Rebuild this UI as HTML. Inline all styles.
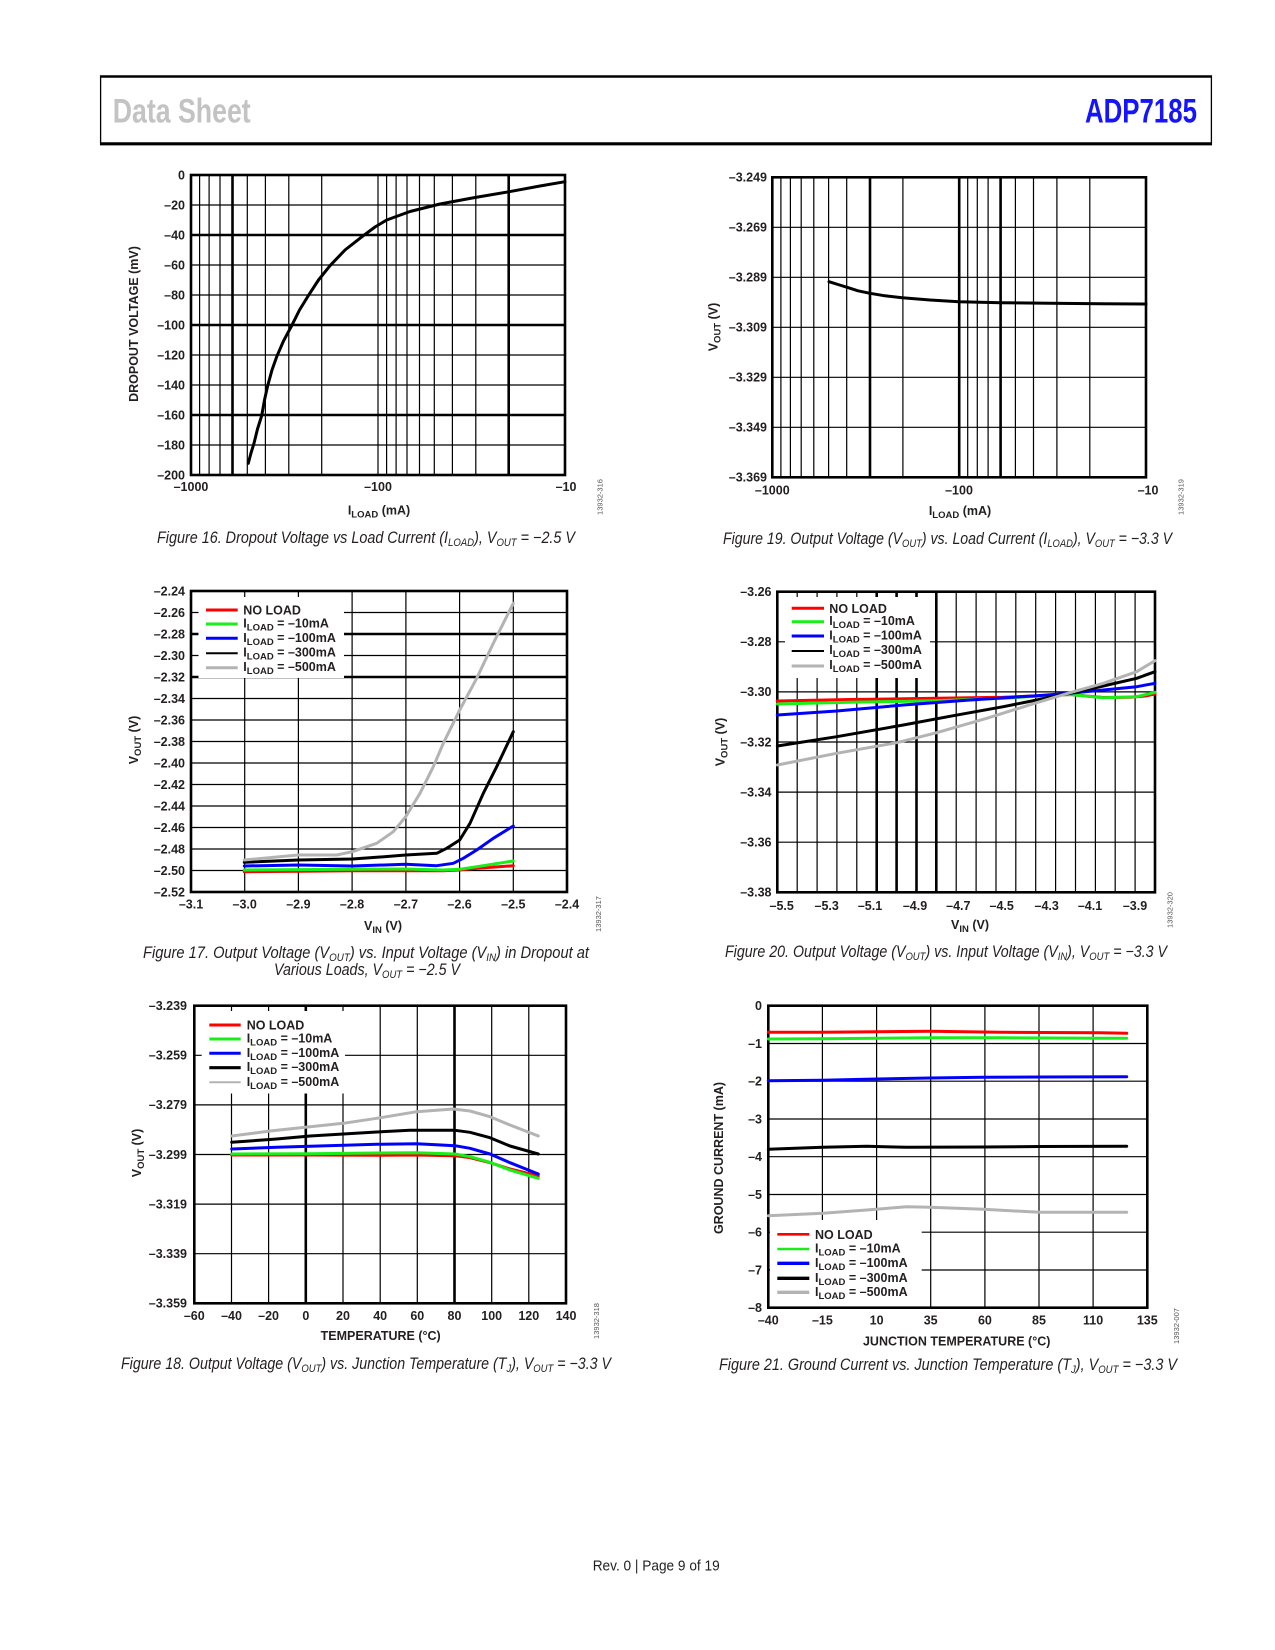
<!DOCTYPE html>
<html>
<head>
<meta charset="utf-8">
<style>
html,body{margin:0;padding:0;background:#fff;}
svg{display:block;}
.t{font-family:"Liberation Sans",Arial,sans-serif;font-weight:bold;font-size:12.5px;fill:#231f20;}
.tl{font-family:"Liberation Sans",Arial,sans-serif;font-weight:bold;font-size:12.5px;fill:#231f20;}
.cap{font-family:"Liberation Sans",Arial,sans-serif;font-style:italic;font-size:16.5px;fill:#231f20;}
.id{font-family:"Liberation Sans",Arial,sans-serif;font-size:7.5px;fill:#555;}
.g{fill:none;stroke:#000;stroke-width:1.2;}
.gk{fill:none;stroke:#000;stroke-width:2.6;}
.bd{fill:none;stroke:#000;stroke-width:2.6;}
.s{fill:none;stroke-width:3;stroke-linejoin:round;stroke-linecap:round;}
</style>
</head>
<body>
<svg width="1275" height="1650" viewBox="0 0 1275 1650" xmlns="http://www.w3.org/2000/svg">
<rect x="0" y="0" width="1275" height="1650" fill="#fff"/>

<!-- HEADER -->
<line x1="100" y1="76.5" x2="1212" y2="76.5" stroke="#000" stroke-width="2.5"/>
<line x1="100" y1="143.8" x2="1212" y2="143.8" stroke="#000" stroke-width="3.2"/>
<line x1="100.6" y1="75.5" x2="100.6" y2="145" stroke="#000" stroke-width="1.3"/>
<line x1="1211.4" y1="75.5" x2="1211.4" y2="145" stroke="#000" stroke-width="1.3"/>
<text x="112.7" y="122.7" font-family="'Liberation Sans Narrow','Liberation Sans',Arial,sans-serif" font-weight="bold" font-size="34" fill="#c3c3c3" textLength="138" lengthAdjust="spacingAndGlyphs">Data Sheet</text>
<text x="1085" y="122.7" font-family="'Liberation Sans Narrow','Liberation Sans',Arial,sans-serif" font-weight="bold" font-size="34" fill="#1414ff" textLength="112" lengthAdjust="spacingAndGlyphs">ADP7185</text>

<!-- ================= FIG 16 ================= -->
<path class="g" d="M199.6 175V475M209.1 175V475M220 175V475M247.3 175V475M265.4 175V475M288.8 175V475M321.7 175V475M378 175V475M386.6 175V475M396.1 175V475M407 175V475M419.5 175V475M434.3 175V475M452.4 175V475M475.8 175V475M191 205H565M191 265H565M191 295H565M191 355H565M191 385H565M191 445H565"/>
<path class="gk" d="M232.5 175V475M508.7 175V475M191 235H565M191 325H565M191 415H565"/>
<rect class="bd" x="191" y="175" width="374" height="300"/>
<polyline class="s" stroke="#000" points="248.3,463.3 251,453 254,443.3 257.5,429 261.7,415.7 264.5,400 267.7,385.7 272,370 276.7,356.7 283.5,341 291.7,325.7 299.5,310 308.3,295.7 318.5,280 330,265.7 345,250 363.3,235.7 375,227 386.7,220 410,211.5 440,204 475,197.5 509.3,191.7 540,186 565,181.7"/>
<g class="t" text-anchor="end">
<text x="185" y="179.3">0</text>
<text x="185" y="209.3">–20</text>
<text x="185" y="239.3">–40</text>
<text x="185" y="269.3">–60</text>
<text x="185" y="299.3">–80</text>
<text x="185" y="329.3">–100</text>
<text x="185" y="359.3">–120</text>
<text x="185" y="389.3">–140</text>
<text x="185" y="419.3">–160</text>
<text x="185" y="449.3">–180</text>
<text x="185" y="479.3">–200</text>
</g>
<g class="t" text-anchor="middle">
<text x="191" y="491">–1000</text>
<text x="378" y="491">–100</text>
<text x="566" y="491">–10</text>
<text x="379" y="514.5">I<tspan font-size="9.5" dy="3">LOAD</tspan><tspan dy="-3"> (mA)</tspan></text>
</g>
<text class="t" text-anchor="middle" x="133.5" y="328.5" transform="rotate(-90 133.5 324)">DROPOUT VOLTAGE (mV)</text>
<text class="id" text-anchor="middle" x="600" y="499.5" transform="rotate(-90 600 497)">13932-316</text>
<text class="cap" x="157" y="543" textLength="418" lengthAdjust="spacingAndGlyphs">Figure 16. Dropout Voltage vs Load Current (I<tspan font-size="11" dy="3">LOAD</tspan><tspan dy="-3">), V</tspan><tspan font-size="11" dy="3">OUT</tspan><tspan dy="-3"> = −2.5 V</tspan></text>

<!-- ================= FIG 19 ================= -->
<path class="g" d="M780.9 177.3V477.3M790.4 177.3V477.3M801.2 177.3V477.3M813.8 177.3V477.3M828.6 177.3V477.3M846.7 177.3V477.3M902.9 177.3V477.3M967.7 177.3V477.3M977.3 177.3V477.3M988.1 177.3V477.3M1015.4 177.3V477.3M1033.5 177.3V477.3M1056.9 177.3V477.3M1089.8 177.3V477.3M772.3 227.3H1146M772.3 277.3H1146M772.3 327.3H1146M772.3 377.3H1146M772.3 427.3H1146"/>
<path class="gk" d="M870 177.3V477.3M959.2 177.3V477.3M1000.6 177.3V477.3"/>
<rect class="bd" x="772.3" y="177.3" width="373.7" height="300"/>
<polyline class="s" stroke="#000" points="829,281.7 838,284.5 848.3,287.7 858,290.8 870,293.3 885,295.8 902.3,297.7 930,300 959,301.7 1001,302.7 1050,303.3 1100,303.7 1146,304"/>
<g class="t" text-anchor="end">
<text x="767" y="181.6">–3.249</text>
<text x="767" y="231.6">–3.269</text>
<text x="767" y="281.6">–3.289</text>
<text x="767" y="331.6">–3.309</text>
<text x="767" y="381.6">–3.329</text>
<text x="767" y="431.6">–3.349</text>
<text x="767" y="481.6">–3.369</text>
</g>
<g class="t" text-anchor="middle">
<text x="772.3" y="494.3">–1000</text>
<text x="959" y="494.3">–100</text>
<text x="1148" y="494.3">–10</text>
<text x="960" y="515">I<tspan font-size="9.5" dy="3">LOAD</tspan><tspan dy="-3"> (mA)</tspan></text>
</g>
<text class="t" text-anchor="middle" x="713" y="331.5" transform="rotate(-90 713 327)">V<tspan font-size="9.5" dy="3">OUT</tspan><tspan dy="-3"> (V)</tspan></text>
<text class="id" text-anchor="middle" x="1181" y="499.5" transform="rotate(-90 1181 497)">13932-319</text>
<text class="cap" x="723" y="544" textLength="449" lengthAdjust="spacingAndGlyphs">Figure 19. Output Voltage (V<tspan font-size="11" dy="3">OUT</tspan><tspan dy="-3">) vs. Load Current (I</tspan><tspan font-size="11" dy="3">LOAD</tspan><tspan dy="-3">), V</tspan><tspan font-size="11" dy="3">OUT</tspan><tspan dy="-3"> = −3.3 V</tspan></text>

<!-- ================= FIG 17 ================= -->
<path class="g" d="M244.7 591V892M298.4 591V892M352.1 591V892M405.9 591V892M459.6 591V892M513.3 591V892M191 612.5H567M191 655.5H567M191 698.5H567M191 720H567M191 741.5H567M191 763H567M191 784.5H567M191 806H567M191 827.5H567M191 849H567M191 870.5H567"/>
<path class="gk" d="M191 634H567M191 677H567"/>
<rect x="198.5" y="597" width="145.5" height="81" fill="#fff"/>
<rect class="bd" x="191" y="591" width="376" height="301"/>
<polyline class="s" stroke="#ff0000" points="244.3,871.7 300,871.2 352.3,870.7 400,870.7 443.3,870.7 459.7,870 476.7,868.3 495,867 513.3,865.7"/>
<polyline class="s" stroke="#19ee19" points="244.3,870 300,869.6 352.3,869.3 405.7,869 443.3,870 459.7,869.3 476.7,866.7 495,863.8 513.3,861"/>
<polyline class="s" stroke="#0000ff" points="244.3,866 298.3,865 352.3,866 405.7,864.3 436.7,865.7 453.3,863.3 463.3,858.3 476.7,850 493.3,838.3 513.3,826"/>
<polyline class="s" stroke="#000" points="244.3,862.3 298.3,860 352.3,859 376.7,857.3 405.7,855 436.7,853.3 446.7,848.3 459.7,840 470,823.3 483.3,793.3 496.7,766.7 513.3,731.7"/>
<polyline class="s" stroke="#b3b3b3" points="244.3,860 298.3,855 336.7,855 352.3,851.7 376.7,843.3 393.3,831.7 405.7,816.7 420,793.3 433.3,766.7 443.3,743.3 459.7,710 476.7,678.3 493.3,643.3 513.3,603.3"/>
<!-- legend 17 -->
<line x1="206" y1="610" x2="237.7" y2="610" stroke="#ff0000" stroke-width="3"/>
<line x1="206" y1="624" x2="237.7" y2="624" stroke="#19ee19" stroke-width="3"/>
<line x1="206" y1="638.3" x2="237.7" y2="638.3" stroke="#0000ff" stroke-width="3"/>
<line x1="206" y1="653.3" x2="237.7" y2="653.3" stroke="#000" stroke-width="2"/>
<line x1="206" y1="667.7" x2="237.7" y2="667.7" stroke="#b3b3b3" stroke-width="3"/>
<g class="tl">
<text x="243.3" y="614.5">NO LOAD</text>
<text x="243.3" y="627.5">I<tspan font-size="9.5" dy="3">LOAD</tspan><tspan dy="-3"> = –10mA</tspan></text>
<text x="243.3" y="641.8">I<tspan font-size="9.5" dy="3">LOAD</tspan><tspan dy="-3"> = –100mA</tspan></text>
<text x="243.3" y="656.3">I<tspan font-size="9.5" dy="3">LOAD</tspan><tspan dy="-3"> = –300mA</tspan></text>
<text x="243.3" y="670.8">I<tspan font-size="9.5" dy="3">LOAD</tspan><tspan dy="-3"> = –500mA</tspan></text>
</g>
<g class="t" text-anchor="end">
<text x="185" y="595.3">–2.24</text>
<text x="185" y="616.8">–2.26</text>
<text x="185" y="638.3">–2.28</text>
<text x="185" y="659.8">–2.30</text>
<text x="185" y="681.3">–2.32</text>
<text x="185" y="702.8">–2.34</text>
<text x="185" y="724.3">–2.36</text>
<text x="185" y="745.8">–2.38</text>
<text x="185" y="767.3">–2.40</text>
<text x="185" y="788.8">–2.42</text>
<text x="185" y="810.3">–2.44</text>
<text x="185" y="831.8">–2.46</text>
<text x="185" y="853.3">–2.48</text>
<text x="185" y="874.8">–2.50</text>
<text x="185" y="896.3">–2.52</text>
</g>
<g class="t" text-anchor="middle">
<text x="191" y="908.3">–3.1</text>
<text x="244.7" y="908.3">–3.0</text>
<text x="298.4" y="908.3">–2.9</text>
<text x="352.1" y="908.3">–2.8</text>
<text x="405.9" y="908.3">–2.7</text>
<text x="459.6" y="908.3">–2.6</text>
<text x="513.3" y="908.3">–2.5</text>
<text x="567" y="908.3">–2.4</text>
<text x="383" y="930">V<tspan font-size="9.5" dy="3">IN</tspan><tspan dy="-3"> (V)</tspan></text>
</g>
<text class="t" text-anchor="middle" x="133.3" y="744.5" transform="rotate(-90 133.3 740)">V<tspan font-size="9.5" dy="3">OUT</tspan><tspan dy="-3"> (V)</tspan></text>
<text class="id" text-anchor="middle" x="598.3" y="916.5" transform="rotate(-90 598.3 914)">13932-317</text>
<text class="cap" x="143" y="958" textLength="446" lengthAdjust="spacingAndGlyphs">Figure 17. Output Voltage (V<tspan font-size="11" dy="3">OUT</tspan><tspan dy="-3">) vs. Input Voltage (V</tspan><tspan font-size="11" dy="3">IN</tspan><tspan dy="-3">) in Dropout at</tspan></text>
<text class="cap" x="274" y="975" textLength="186" lengthAdjust="spacingAndGlyphs">Various Loads, V<tspan font-size="11" dy="3">OUT</tspan><tspan dy="-3"> = −2.5 V</tspan></text>

<!-- ================= FIG 20 ================= -->
<path class="g" d="M797.2 591.7V892.3M817.1 591.7V892.3M836.9 591.7V892.3M856.8 591.7V892.3M956.2 591.7V892.3M976.1 591.7V892.3M996 591.7V892.3M1015.8 591.7V892.3M1035.7 591.7V892.3M1055.6 591.7V892.3M1075.5 591.7V892.3M1095.4 591.7V892.3M1115.2 591.7V892.3M1135.1 591.7V892.3M777.3 641.8H1155M777.3 691.9H1155M777.3 742H1155M777.3 792.1H1155M777.3 842.2H1155"/>
<path class="gk" d="M876.7 591.7V892.3M896.6 591.7V892.3M916.5 591.7V892.3M936.3 591.7V892.3"/>
<rect x="785" y="597" width="145" height="81" fill="#fff"/>
<rect class="bd" x="777.3" y="591.7" width="377.7" height="300.6"/>
<polyline class="s" stroke="#ff0000" points="777.3,701 850,699.5 936.7,698.3 1003.3,697.3 1040,695.8 1070,694.5 1103.3,697.5 1130,697.3 1145,696 1155,694"/>
<polyline class="s" stroke="#19ee19" points="777.3,704 850,702.3 936.7,700.7 1003.3,698.3 1040,696 1070,694.5 1103.3,697.7 1136.7,696.7 1155,692.3"/>
<polyline class="s" stroke="#0000ff" points="777.3,715 836.7,711 903.3,705 970,700 1036.7,695.7 1070,693.3 1103.3,690 1136.7,686.7 1155,683.3"/>
<polyline class="s" stroke="#000" points="777.3,746 836.7,736.7 903.3,725 953.3,715.7 1003.3,706.7 1036.7,700 1070,693.3 1103.3,686 1136.7,678.3 1155,671.7"/>
<polyline class="s" stroke="#b3b3b3" points="777.3,765 836.7,753.3 896.7,742.7 936.7,732.7 986.7,718.3 1036.7,702.7 1070,692.7 1103.3,683.3 1136.7,671.7 1155,660.7"/>
<!-- legend 20 -->
<line x1="791.7" y1="608.3" x2="824" y2="608.3" stroke="#ff0000" stroke-width="3"/>
<line x1="791.7" y1="621.7" x2="824" y2="621.7" stroke="#19ee19" stroke-width="3"/>
<line x1="791.7" y1="636" x2="824" y2="636" stroke="#0000ff" stroke-width="3"/>
<line x1="791.7" y1="651" x2="824" y2="651" stroke="#000" stroke-width="2"/>
<line x1="791.7" y1="666" x2="824" y2="666" stroke="#b3b3b3" stroke-width="3"/>
<g class="tl">
<text x="829.3" y="612.8">NO LOAD</text>
<text x="829.3" y="625.2">I<tspan font-size="9.5" dy="3">LOAD</tspan><tspan dy="-3"> = –10mA</tspan></text>
<text x="829.3" y="639.5">I<tspan font-size="9.5" dy="3">LOAD</tspan><tspan dy="-3"> = –100mA</tspan></text>
<text x="829.3" y="654">I<tspan font-size="9.5" dy="3">LOAD</tspan><tspan dy="-3"> = –300mA</tspan></text>
<text x="829.3" y="669">I<tspan font-size="9.5" dy="3">LOAD</tspan><tspan dy="-3"> = –500mA</tspan></text>
</g>
<g class="t" text-anchor="end">
<text x="771.5" y="596">–3.26</text>
<text x="771.5" y="646.1">–3.28</text>
<text x="771.5" y="696.2">–3.30</text>
<text x="771.5" y="746.3">–3.32</text>
<text x="771.5" y="796.4">–3.34</text>
<text x="771.5" y="846.5">–3.36</text>
<text x="771.5" y="896.6">–3.38</text>
</g>
<g class="t" text-anchor="middle">
<text x="781.7" y="910">–5.5</text>
<text x="826.7" y="910">–5.3</text>
<text x="870" y="910">–5.1</text>
<text x="915" y="910">–4.9</text>
<text x="958.3" y="910">–4.7</text>
<text x="1001.7" y="910">–4.5</text>
<text x="1046.7" y="910">–4.3</text>
<text x="1090" y="910">–4.1</text>
<text x="1135" y="910">–3.9</text>
<text x="970" y="929">V<tspan font-size="9.5" dy="3">IN</tspan><tspan dy="-3"> (V)</tspan></text>
</g>
<text class="t" text-anchor="middle" x="720" y="746.5" transform="rotate(-90 720 742)">V<tspan font-size="9.5" dy="3">OUT</tspan><tspan dy="-3"> (V)</tspan></text>
<text class="id" text-anchor="middle" x="1170" y="912.5" transform="rotate(-90 1170 910)">13932-320</text>
<text class="cap" x="725" y="957" textLength="442" lengthAdjust="spacingAndGlyphs">Figure 20. Output Voltage (V<tspan font-size="11" dy="3">OUT</tspan><tspan dy="-3">) vs. Input Voltage (V</tspan><tspan font-size="11" dy="3">IN</tspan><tspan dy="-3">), V</tspan><tspan font-size="11" dy="3">OUT</tspan><tspan dy="-3"> = −3.3 V</tspan></text>

<!-- ================= FIG 18 ================= -->
<path class="g" d="M231.5 1005.7V1303.3M268.6 1005.7V1303.3M343 1005.7V1303.3M380.2 1005.7V1303.3M417.3 1005.7V1303.3M491.7 1005.7V1303.3M528.8 1005.7V1303.3M194.3 1055.3H566M194.3 1104.9H566M194.3 1154.5H566M194.3 1204.1H566M194.3 1253.7H566"/>
<path class="gk" d="M305.8 1005.7V1303.3M454.5 1005.7V1303.3"/>
<rect x="201.7" y="1011" width="143.3" height="82.5" fill="#fff"/>
<rect class="bd" x="194.3" y="1005.7" width="371.7" height="297.6"/>
<polyline class="s" stroke="#ff0000" points="231.7,1155 310,1155 376.7,1155.3 416.7,1155 455,1155.7 470,1157.7 490,1162.7 510,1169 538.3,1176"/>
<polyline class="s" stroke="#19ee19" points="231.7,1154 310,1153.7 376.7,1153 416.7,1152.7 455,1154 470,1156.7 490,1162.3 510,1170 538.3,1178.3"/>
<polyline class="s" stroke="#0000ff" points="231.7,1149 276.7,1147.3 310,1146.3 376.7,1144.3 416.7,1143.7 455,1145.7 470,1148.3 490,1154 510,1162.7 538.3,1174"/>
<polyline class="s" stroke="#000" points="231.7,1142.3 276.7,1139 310,1136 343.3,1134 376.7,1132 410,1130.3 455,1130.3 470,1132.3 490,1137.7 510,1146 538.3,1154"/>
<polyline class="s" stroke="#b3b3b3" stroke-width="2.6" points="231.7,1136 270,1131 310,1126.7 343.3,1123.3 376.7,1118.3 416.7,1111.7 453.3,1109 470,1111 490,1116.7 510,1125 538.3,1136"/>
<!-- legend 18 -->
<line x1="209.3" y1="1025" x2="240.7" y2="1025" stroke="#ff0000" stroke-width="3"/>
<line x1="209.3" y1="1039" x2="240.7" y2="1039" stroke="#19ee19" stroke-width="3"/>
<line x1="209.3" y1="1053.3" x2="240.7" y2="1053.3" stroke="#0000ff" stroke-width="3"/>
<line x1="209.3" y1="1067.7" x2="240.7" y2="1067.7" stroke="#000" stroke-width="3.2"/>
<line x1="209.3" y1="1082.3" x2="240.7" y2="1082.3" stroke="#b3b3b3" stroke-width="2"/>
<g class="tl">
<text x="246.7" y="1029.5">NO LOAD</text>
<text x="246.7" y="1042.5">I<tspan font-size="9.5" dy="3">LOAD</tspan><tspan dy="-3"> = –10mA</tspan></text>
<text x="246.7" y="1056.8">I<tspan font-size="9.5" dy="3">LOAD</tspan><tspan dy="-3"> = –100mA</tspan></text>
<text x="246.7" y="1071.2">I<tspan font-size="9.5" dy="3">LOAD</tspan><tspan dy="-3"> = –300mA</tspan></text>
<text x="246.7" y="1085.8">I<tspan font-size="9.5" dy="3">LOAD</tspan><tspan dy="-3"> = –500mA</tspan></text>
</g>
<g class="t" text-anchor="end">
<text x="187" y="1010">–3.239</text>
<text x="187" y="1059.6">–3.259</text>
<text x="187" y="1109.2">–3.279</text>
<text x="187" y="1158.8">–3.299</text>
<text x="187" y="1208.4">–3.319</text>
<text x="187" y="1258">–3.339</text>
<text x="187" y="1307.6">–3.359</text>
</g>
<g class="t" text-anchor="middle">
<text x="194.3" y="1320">–60</text>
<text x="231.5" y="1320">–40</text>
<text x="268.6" y="1320">–20</text>
<text x="305.8" y="1320">0</text>
<text x="343" y="1320">20</text>
<text x="380.2" y="1320">40</text>
<text x="417.3" y="1320">60</text>
<text x="454.5" y="1320">80</text>
<text x="491.7" y="1320">100</text>
<text x="528.8" y="1320">120</text>
<text x="566" y="1320">140</text>
<text x="380.7" y="1340">TEMPERATURE (°C)</text>
</g>
<text class="t" text-anchor="middle" x="136.7" y="1157.5" transform="rotate(-90 136.7 1153)">V<tspan font-size="9.5" dy="3">OUT</tspan><tspan dy="-3"> (V)</tspan></text>
<text class="id" text-anchor="middle" x="596.7" y="1323.5" transform="rotate(-90 596.7 1321)">13932-318</text>
<text class="cap" x="121" y="1369" textLength="490" lengthAdjust="spacingAndGlyphs">Figure 18. Output Voltage (V<tspan font-size="11" dy="3">OUT</tspan><tspan dy="-3">) vs. Junction Temperature (T</tspan><tspan font-size="11" dy="3">J</tspan><tspan dy="-3">), V</tspan><tspan font-size="11" dy="3">OUT</tspan><tspan dy="-3"> = −3.3 V</tspan></text>

<!-- ================= FIG 21 ================= -->
<path class="g" d="M822.4 1005.7V1307.7M876.6 1005.7V1307.7M930.7 1005.7V1307.7M984.9 1005.7V1307.7M1039 1005.7V1307.7M1093.1 1005.7V1307.7M768.3 1043.5H1147.3M768.3 1081.2H1147.3M768.3 1119H1147.3M768.3 1156.7H1147.3M768.3 1194.5H1147.3M768.3 1232.2H1147.3M768.3 1270H1147.3"/>
<rect x="770" y="1220" width="151.7" height="86.5" fill="#fff"/>
<rect class="bd" x="768.3" y="1005.7" width="379" height="302"/>
<polyline class="s" stroke="#ff0000" points="768.3,1032.3 822.4,1032.2 876.7,1031.7 930,1031.3 1000,1032.3 1100,1032.7 1126.7,1033.3"/>
<polyline class="s" stroke="#19ee19" points="768.3,1039 822.4,1038.8 876.7,1038.3 930,1037.7 1000,1037.8 1100,1038.2 1126.7,1038.3"/>
<polyline class="s" stroke="#0000ff" stroke-width="3.3" points="768.3,1080.7 822.4,1080.3 876.7,1079 930,1078 983.3,1077.3 1040,1077 1126.7,1076.7"/>
<polyline class="s" stroke="#000" stroke-width="3.3" points="768.3,1149.3 822.7,1147.3 866.7,1146.3 906.7,1147.3 983.3,1147 1040,1146.5 1126.7,1146.3"/>
<polyline class="s" stroke="#b3b3b3" stroke-width="3.3" points="768.3,1215.7 822.7,1213.3 866.7,1210 906.7,1206.7 930,1207.3 983.3,1209.3 1040,1212.3 1126.7,1212.3"/>
<!-- legend 21 -->
<line x1="777.3" y1="1234.3" x2="809.3" y2="1234.3" stroke="#ff0000" stroke-width="2.6"/>
<line x1="777.3" y1="1249" x2="809.3" y2="1249" stroke="#19ee19" stroke-width="2.6"/>
<line x1="777.3" y1="1263.3" x2="809.3" y2="1263.3" stroke="#0000ff" stroke-width="3.3"/>
<line x1="777.3" y1="1278.3" x2="809.3" y2="1278.3" stroke="#000" stroke-width="3.3"/>
<line x1="777.3" y1="1292.3" x2="809.3" y2="1292.3" stroke="#b3b3b3" stroke-width="3.3"/>
<g class="tl">
<text x="815" y="1238.8">NO LOAD</text>
<text x="815" y="1252.5">I<tspan font-size="9.5" dy="3">LOAD</tspan><tspan dy="-3"> = –10mA</tspan></text>
<text x="815" y="1266.8">I<tspan font-size="9.5" dy="3">LOAD</tspan><tspan dy="-3"> = –100mA</tspan></text>
<text x="815" y="1281.8">I<tspan font-size="9.5" dy="3">LOAD</tspan><tspan dy="-3"> = –300mA</tspan></text>
<text x="815" y="1295.8">I<tspan font-size="9.5" dy="3">LOAD</tspan><tspan dy="-3"> = –500mA</tspan></text>
</g>
<g class="t" text-anchor="end">
<text x="762" y="1010">0</text>
<text x="762" y="1047.8">–1</text>
<text x="762" y="1085.5">–2</text>
<text x="762" y="1123.3">–3</text>
<text x="762" y="1161">–4</text>
<text x="762" y="1198.8">–5</text>
<text x="762" y="1236.5">–6</text>
<text x="762" y="1274.3">–7</text>
<text x="762" y="1312">–8</text>
</g>
<g class="t" text-anchor="middle">
<text x="768.3" y="1324.3">–40</text>
<text x="822.4" y="1324.3">–15</text>
<text x="876.6" y="1324.3">10</text>
<text x="930.7" y="1324.3">35</text>
<text x="984.9" y="1324.3">60</text>
<text x="1039" y="1324.3">85</text>
<text x="1093.1" y="1324.3">110</text>
<text x="1147.3" y="1324.3">135</text>
<text x="956.7" y="1345.5">JUNCTION TEMPERATURE (°C)</text>
</g>
<text class="t" text-anchor="middle" x="718.3" y="1162.5" transform="rotate(-90 718.3 1158)">GROUND CURRENT (mA)</text>
<text class="id" text-anchor="middle" x="1176.7" y="1328.5" transform="rotate(-90 1176.7 1326)">13932-007</text>
<text class="cap" x="719" y="1370" textLength="458" lengthAdjust="spacingAndGlyphs">Figure 21. Ground Current vs. Junction Temperature (T<tspan font-size="11" dy="3">J</tspan><tspan dy="-3">), V</tspan><tspan font-size="11" dy="3">OUT</tspan><tspan dy="-3"> = −3.3 V</tspan></text>

<!-- FOOTER -->
<text x="592.7" y="1570.7" font-family="'Liberation Sans',Arial,sans-serif" font-size="15" fill="#231f20" textLength="127" lengthAdjust="spacingAndGlyphs">Rev. 0 | Page 9 of 19</text>
</svg>
</body>
</html>
